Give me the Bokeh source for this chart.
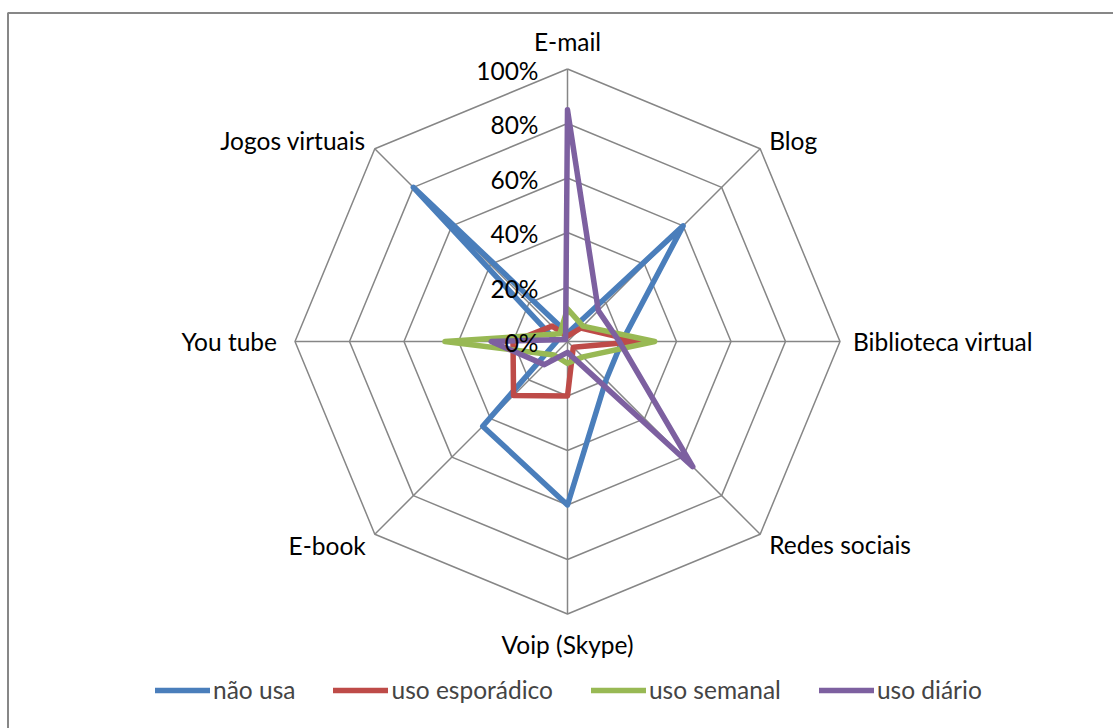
import numpy as np
from bokeh.plotting import figure
from bokeh.models import Range1d, Legend, LegendItem, ColumnDataSource
from bokeh.core.properties import value
from bokeh.embed import file_html
from bokeh.resources import INLINE

# ---------------- data ----------------
categories = ["E-mail", "Blog", "Biblioteca virtual", "Redes sociais",
              "Voip (Skype)", "E-book", "You tube", "Jogos virtuais"]
nao_usa = [3, 60, 20, 20, 60, 44, 4, 80]
uso_esporadico = [2, 7, 26, 3, 20, 28, 20, 8]
uso_semanal = [12, 8, 32, 8, 8, 7, 45, 4]
uso_diario = [85, 16, 19, 65, 4, 12, 28, 1]
series_names = ["não usa", "uso esporádico", "uso semanal", "uso diário"]
tick_values = [0, 20, 40, 60, 80, 100]
tick_labels = ["0%", "20%", "40%", "60%", "80%", "100%"]

# ---------------- style / layout ----------------
W, H = 1113, 728
CX, CY = 567, 341          # centre in page pixels (from top-left)
R = 272.5                  # pixels for 100 %
FONT = "Lato"
FS = "24.5px"
colors = ["#4A7EBB", "#BE4B48", "#98B954", "#7D60A0"]
grid_color = "#868686"

n = len(categories)
ang = np.deg2rad(90 - 45 * np.arange(n))
cosA, sinA = np.cos(ang), np.sin(ang)

p = figure(width=W, height=H, output_backend="svg", toolbar_location=None,
           x_range=Range1d(-CX / R, (W - CX) / R),
           y_range=Range1d(-(H - CY) / R, CY / R),
           min_border=0, min_border_left=0, min_border_right=0,
           min_border_top=0, min_border_bottom=0)
p.axis.visible = False
p.grid.visible = False
p.outline_line_color = None
p.background_fill_color = "white"
p.border_fill_color = "white"

# outer chart-area border (only its left and top edges fall inside the picture)
bx = [(7.5 - CX) / R, (7.5 - CX) / R, (W + 50 - CX) / R]
by = [-(H + 50 - CY) / R, (CY - 12.5) / R, (CY - 12.5) / R]
p.line(bx, by, line_color="#878787", line_width=2)

# rings
for t in tick_values[1:]:
    r = t / 100.0
    xs = list(r * cosA) + [r * cosA[0]]
    ys = list(r * sinA) + [r * sinA[0]]
    p.line(xs, ys, line_color=grid_color, line_width=1.5)
# spokes
p.multi_line([[0, c] for c in cosA], [[0, s] for s in sinA],
             line_color=grid_color, line_width=1.5)

# series
renderers = []
for vals, col in zip([nao_usa, uso_esporadico, uso_semanal, uso_diario], colors):
    v = np.array(vals, dtype=float) / 100.0
    xs = list(v * cosA) + [v[0] * cosA[0]]
    ys = list(v * sinA) + [v[0] * sinA[0]]
    rr = p.line(xs, ys, line_color=col, line_width=5.5,
                line_join="round", line_cap="round")
    renderers.append(rr)

# tick labels along E-mail spoke
p.text(x=[0] * len(tick_values), y=[t / 100.0 for t in tick_values],
       text=tick_labels, text_align="right", text_baseline="middle",
       x_offset=-29, y_offset=1,
       text_font=value(FONT), text_font_size=FS, text_color="black")

# category labels
aligns = ["center", "left", "left", "left", "center", "right", "right", "right"]
xoff = [0, 9, 13, 9, 0, -9, -18, -9]
yoff = [-28, -8, 0, 10, 30, 11, 0, -8]
src = ColumnDataSource(dict(x=cosA, y=sinA, text=categories, align=aligns,
                            xo=xoff, yo=yoff))
p.text(x="x", y="y", text="text", source=src, text_align="align",
       text_baseline="middle", x_offset="xo", y_offset="yo",
       text_font=value(FONT), text_font_size=FS, text_color="black")

legend = Legend(items=[LegendItem(label=nm, renderers=[rr])
                       for nm, rr in zip(series_names, renderers)],
                orientation="horizontal", location=(155, 24),
                glyph_width=55, glyph_height=24, label_standoff=3,
                spacing=38, padding=0, margin=0,
                label_text_font=FONT, label_text_font_size=FS,
                label_text_baseline="middle",
                border_line_color=None, background_fill_alpha=0)
p.add_layout(legend, "center")

open("out.html", "w").write(file_html(p, INLINE))
